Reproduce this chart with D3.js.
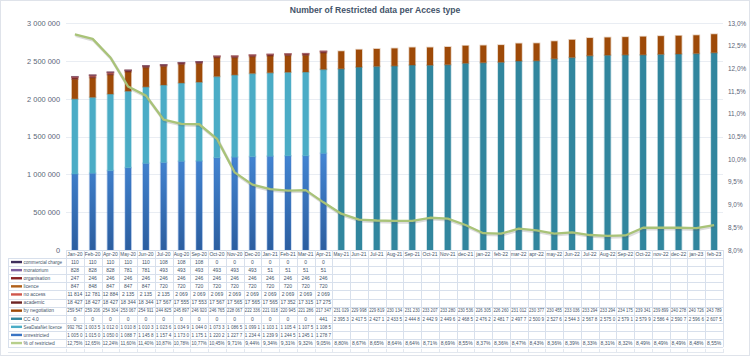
<!DOCTYPE html>
<html>
<head>
<meta charset="utf-8">
<script src="https://cdn.jsdelivr.net/npm/d3@7/dist/d3.min.js"></script>
<style>
  html, body { margin: 0; padding: 0; background: #fff; }
  svg { display: block; font-family: "Liberation Sans", Arial, sans-serif; }
</style>
</head>
<body>
<svg id="chart" width="750" height="356"></svg>
<script>
// ---------------- DATA ----------------
const categories = ["Jan-20","Feb-20","Apr-20","May-20","Jun-20","Jul-20","Aug-20","Sep-20","Oct-20","Nov-20","Dec-20",
  "Jan-21","Feb-21","Mar-21","Apr-21","May-21","Jun-21","Jul-21","Aug-21","Sep-21","Oct-21","Nov-21","dec-21",
  "jan-22","feb-22","mar-22","apr-22","may-22","Jun-22","Jul-22","Aug-22","Sep-22","Oct-22","nov-22","dec-22","jan-23","feb-23"];

const N22 = [null,null,null,null,null,null,null,null,null,null,null,null,null,null,null,null,null,null,null,null,null,null];

const commercialCharge = [110,110,110,110,110,108,108,108,0,0,0,0,0,0,0].concat(N22);
const moratorium       = [828,828,828,781,781,493,493,493,493,493,493,51,51,51,51].concat(N22);
const organisation     = [247,246,246,246,246,246,246,246,246,246,246,246,246,246,246].concat(N22);
const licence          = [847,848,847,847,847,720,720,720,720,720,720,720,720,720,720].concat(N22);
const noAccess         = [11814,12781,12884,2135,2135,2135,2069,2069,2069,2069,2069,2069,2069,2069,2069].concat(N22);
const academic         = [18427,18427,18427,18344,18344,17567,17555,17553,17567,17565,17565,17565,17352,17315,17275].concat(N22);
const byNegotiation    = [259547,259206,254304,253067,254911,244825,245897,246920,246765,228067,222336,221018,220945,221286,217347,
  231029,229998,229819,230134,231230,233207,233280,230536,226305,226260,231012,230377,230455,233036,233294,233294,234175,
  239341,239899,240278,240726,243789];
const cc40             = [0,0,0,0,0,0,0,0,0,0,0,0,0,0,441,
  2395300,2417500,2427100,2433500,2444800,2442900,2449600,2468500,2476200,2481700,2497700,2500900,2527600,2544300,
  2567800,2575000,2579100,2579900,2586400,2590700,2596600,2607500];
const seaDataNet       = [992762,1003500,1012000,1010800,1010300,1023600,1034900,1044000,1073300,1086500,1099100,1103100,1105400,1107500,1108500].concat(N22);
const unrestricted     = [1005000,1015000,1050000,1088700,1145800,1157400,1173000,1175100,1220200,1227700,1234400,1239900,1244500,1245100,1278700].concat(N22);
const pctRestricted    = [12.75,12.65,12.24,11.60,11.40,10.87,10.78,10.77,10.45,9.71,9.44,9.34,9.31,9.32,9.05,
  8.80,8.67,8.65,8.64,8.64,8.71,8.69,8.55,8.37,8.36,8.47,8.43,8.36,8.39,8.33,8.31,8.32,8.49,8.49,8.49,8.48,8.55];

const leftTicks  = [0,500000,1000000,1500000,2000000,2500000,3000000];
const rightTicks = [8,8.5,9,9.5,10,10.5,11,11.5,12,12.5,13];

// series: table order (top to bottom)
const series = [
  {key:"commercialCharge", name:"commercial charge", values:commercialCharge, color:"#3f2f5c"},
  {key:"moratorium",       name:"moratorium",        values:moratorium,       color:"#7d5fa0"},
  {key:"organisation",     name:"organisation",      values:organisation,     color:"#8a2222"},
  {key:"licence",          name:"licence",           values:licence,          color:"#b0601a"},
  {key:"noAccess",         name:"no access",         values:noAccess,         color:"#cf564c"},
  {key:"academic",         name:"academic",          values:academic,         color:"#6e2424"},
  {key:"byNegotiation",    name:"by negotiation",    values:byNegotiation,    color:"#9e4a08"},
  {key:"cc40",             name:"CC 4.0",            values:cc40,             color:"#31869e"},
  {key:"seaDataNet",       name:"SeaDataNet licence",values:seaDataNet,       color:"#4bacc6"},
  {key:"unrestricted",     name:"unrestricted",      values:unrestricted,     color:"#3a74c4"}
];
const pctSeries = {name:"% of restricted", values:pctRestricted, color:"#b7cf8c"};

// ---------------- LAYOUT ----------------
const svg = d3.select("#chart");
const W = 750, H = 356;
const plotL = 66, plotR = 723, plotT = 23, plotB = 250;
const tableTop = 250, headerH = 8, rowH = 8.1;
const legendL = 8;

svg.append("rect").attr("x",0.5).attr("y",0.5).attr("width",W-1).attr("height",H-1)
  .attr("fill","#fff").attr("stroke","#dfe3ea");

const x = d3.scaleBand().domain(categories).range([plotL, plotR]).paddingInner(0).paddingOuter(0);
const y = d3.scaleLinear().domain([0,3000000]).range([plotB, plotT]);
const y2 = d3.scaleLinear().domain([8,13]).range([plotB, plotT]);
const bw = x.bandwidth();
const barW = 6;

const fmtNum = v => d3.format(",")(v).replace(/,/g, " ");
const fmtPct = v => v.toFixed(2).replace(".", ",") + "%";

// title
svg.append("text").attr("x",375).attr("y",13).attr("text-anchor","middle")
  .attr("font-size","8.6px").attr("font-weight","bold").attr("fill","#44546a")
  .text("Number of Restricted data per Acces type");

// gridlines
svg.append("g").selectAll("line").data(leftTicks.filter(d=>d>0)).join("line")
  .attr("x1",plotL).attr("x2",plotR).attr("y1",d=>Math.round(y(d))+0.5).attr("y2",d=>Math.round(y(d))+0.5)
  .attr("stroke","#e9edf3").attr("stroke-width",1);

// left axis
const gL = svg.append("g").attr("transform",`translate(${plotL-6},0)`)
  .call(d3.axisLeft(y).tickValues(leftTicks).tickFormat(fmtNum).tickSize(0).tickPadding(0));
gL.select(".domain").remove();
gL.selectAll("text").attr("font-size","7.4px").attr("fill","#5b6577").attr("font-family","Liberation Sans, Arial");

// right axis
const gR = svg.append("g").attr("transform",`translate(${plotR+5},0)`)
  .call(d3.axisRight(y2).tickValues(rightTicks).tickFormat(d=>d.toFixed(1).replace(".",",")+"%").tickSize(0).tickPadding(0));
gR.select(".domain").remove();
gR.selectAll("text").attr("font-size","6.4px").attr("fill","#5b6577").attr("font-family","Liberation Sans, Arial");

// gradient for unrestricted
const defs = svg.append("defs");
const grad = defs.append("linearGradient").attr("id","gUnr").attr("gradientUnits","userSpaceOnUse")
  .attr("x1",0).attr("x2",0).attr("y1",plotB).attr("y2",y(1300000));
grad.append("stop").attr("offset","0").attr("stop-color","#2c5e9f");
grad.append("stop").attr("offset","1").attr("stop-color","#4386d4");

// stacked bars
const rows = categories.map((c,i)=>{
  const o = {cat:c};
  series.forEach(s=>{ o[s.key] = s.values[i] == null ? 0 : s.values[i]; });
  return o;
});
const stackKeys = series.map(s=>s.key).slice().reverse(); // bottom -> top
const stacked = d3.stack().keys(stackKeys)(rows);
const colorOf = {}; series.forEach(s=>colorOf[s.key]=s.color);

const gBars = svg.append("g");
stacked.forEach(layer=>{
  const fill = layer.key === "unrestricted" ? "url(#gUnr)" : colorOf[layer.key];
  gBars.append("g").selectAll("rect").data(layer.filter(d=>d[1]-d[0]>0)).join("rect")
    .attr("x", d=>x(d.data.cat) + bw/2 - barW/2)
    .attr("width", barW)
    .attr("y", d=>y(d[1]))
    .attr("height", d=>Math.max(0, y(d[0]) - y(d[1])))
    .attr("fill", fill)
    .attr("stroke", colorOf[layer.key]).attr("stroke-opacity",0.28).attr("stroke-width",1.6);
});

// line
const line = d3.line().x((d,i)=>x(categories[i]) + bw/2).y(d=>y2(d));
svg.append("path").attr("d", line(pctRestricted)).attr("fill","none")
  .attr("stroke","rgba(90,90,90,0.22)").attr("stroke-width",3)
  .attr("transform","translate(0.8,1.3)").attr("stroke-linejoin","round");
svg.append("path").attr("d", line(pctRestricted)).attr("fill","none")
  .attr("stroke","#a9c378").attr("stroke-width",2.3).attr("stroke-linejoin","round");

// ---------------- DATA TABLE ----------------
const gT = svg.append("g");
const tableRows = series.map(s=>({name:s.name, values:s.values, color:s.color, fmt:fmtNum}))
  .concat([{name:pctSeries.name, values:pctSeries.values, color:pctSeries.color, fmt:fmtPct}]);
const tableBottom = tableTop + headerH + rowH*tableRows.length;
const gridCol = "#d8e0ec";

// horizontal lines
gT.append("line").attr("x1",plotL).attr("x2",plotR).attr("y1",tableTop+0.5).attr("y2",tableTop+0.5).attr("stroke","#d4dbe6");
for (let r=0; r<=tableRows.length; r++) {
  const yy = Math.round(tableTop + headerH + rowH*r) + 0.5;
  gT.append("line").attr("x1",legendL).attr("x2",plotR).attr("y1",yy).attr("y2",yy).attr("stroke",gridCol);
}
// vertical lines
const colEdges = categories.map(c=>x(c)).concat([plotR]);
gT.selectAll("line.v").data(colEdges).join("line").attr("class","v")
  .attr("x1",d=>Math.round(d)+0.5).attr("x2",d=>Math.round(d)+0.5)
  .attr("y1",tableTop).attr("y2",tableBottom).attr("stroke",gridCol);
gT.append("line").attr("x1",legendL+0.5).attr("x2",legendL+0.5).attr("y1",tableTop+headerH).attr("y2",tableBottom).attr("stroke",gridCol);

// bottom frame with ticks
gT.append("line").attr("x1",legendL).attr("x2",plotR).attr("y1",352.5).attr("y2",352.5).attr("stroke","#e3e8ef");
gT.selectAll("line.t").data(colEdges).join("line").attr("class","t")
  .attr("x1",d=>Math.round(d)+0.5).attr("x2",d=>Math.round(d)+0.5)
  .attr("y1",349).attr("y2",353).attr("stroke","#e3e8ef");

// fit a text into a width: truncate (as Excel clips) then squeeze slightly if needed
function fitText(t, maxW, maxChars) {
  let s = t.text();
  if (maxChars && s.length > maxChars) { s = s.slice(0, maxChars).replace(/\s+$/, ""); t.text(s); }
  let len = t.node().getComputedTextLength();
  if (len > maxW) t.attr("textLength", maxW).attr("lengthAdjust", "spacingAndGlyphs");
}

// header labels
gT.selectAll("text.h").data(categories).join("text").attr("class","h")
  .attr("x",d=>x(d)+bw/2).attr("y",tableTop+headerH/2+2)
  .attr("text-anchor","middle").attr("font-size","5px").attr("fill","#44546a").text(d=>d)
  .each(function(){ fitText(d3.select(this), bw-2.2); });

// legend column
tableRows.forEach((r,i)=>{
  const cy = tableTop + headerH + rowH*i + rowH/2;
  gT.append("rect").attr("x",11).attr("y",cy-1.2).attr("width",11).attr("height",2.4).attr("fill",r.color);
  const t = gT.append("text").attr("x",23.5).attr("y",cy+1.8).attr("font-size","4.9px").attr("fill","#44546a").text(r.name);
  fitText(t, plotL - 23.5 - 4);
});

// cell values
tableRows.forEach((r,ri)=>{
  const cy = tableTop + headerH + rowH*ri + rowH/2;
  r.values.forEach((v,ci)=>{
    if (v == null) return;
    const cx = x(categories[ci]);
    const t = gT.append("text").attr("x",cx+bw/2).attr("y",cy+1.8)
      .attr("text-anchor","middle").attr("font-size","5px").attr("fill","#44546a")
      .text(r.fmt(v));
    fitText(t, bw-2.6, 7);
  });
});
</script>
</body>
</html>
